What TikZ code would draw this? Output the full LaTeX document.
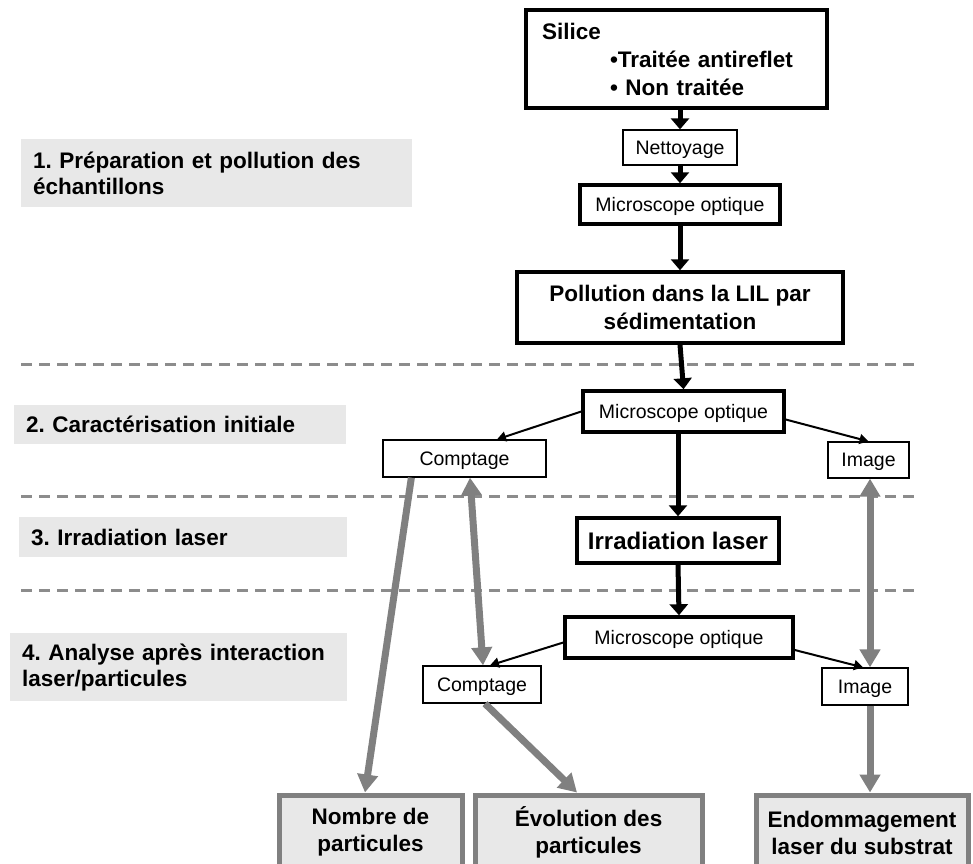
\documentclass[tikz,border=0pt]{standalone}
\usepackage{fontspec}
\setmainfont{Liberation Sans}
\usetikzlibrary{arrows.meta}
\definecolor{grayline}{RGB}{128,128,128}
\definecolor{dashgray}{RGB}{140,140,140}
\definecolor{lightfill}{RGB}{232,232,232}
\frenchspacing
\begin{document}
\begin{tikzpicture}[x=1pt,y=-1pt,
  bx/.style={draw, fill=white, inner sep=0pt, align=center, font=\fontsize{19.5}{23}\selectfont},
  thk/.style={bx, line width=3.5pt},
  thn/.style={bx, line width=1.3pt},
  oneline/.style={text depth=0pt},
  bld/.style={font=\fontsize{22.5}{28}\selectfont\bfseries},
  lab/.style={fill=lightfill, anchor=north west, inner xsep=12pt, inner ysep=0pt, align=left, font=\fontsize{22.5}{26}\selectfont\bfseries},
  res/.style={draw=grayline, fill=lightfill, line width=5pt, inner sep=0pt, align=center, font=\fontsize{22.5}{27}\selectfont\bfseries, minimum height=75pt},
  barrow/.style={-{Triangle[width=18pt,length=11pt]}, line width=5pt},
  tarrow/.style={-{Triangle[width=10pt,length=9pt]}, line width=2pt},
  garrow/.style={-{Triangle[width=20pt,length=18pt]}, line width=7pt, draw=grayline},
  gdarrow/.style={{Triangle[width=20pt,length=18pt]}-{Triangle[width=20pt,length=18pt]}, line width=7pt, draw=grayline},
  sep/.style={draw=dashgray, line width=3pt, dash pattern=on 11pt off 7pt}
]
\useasboundingbox (0,0) rectangle (973,863);
\clip (0,0) rectangle (973,863);
\fill[white] (0,0) rectangle (973,863);

% phase separators
\draw[sep] (21,364) -- (917,364);
\draw[sep] (21,496) -- (917,496);
\draw[sep] (21,590) -- (917,590);

% phase labels
\node[lab, text width=367pt, minimum height=68pt] (l1) at (21,139) {1. Préparation et pollution des\\échantillons};
\node[lab, text width=308pt, minimum height=39pt] (l2) at (14,405) {2. Caractérisation initiale};
\node[lab, text width=304pt, minimum height=40pt] (l3) at (19,517) {3. Irradiation laser};
\node[lab, text width=313pt, minimum height=68pt] (l4) at (10,633) {4. Analyse après interaction\\laser/particules};

% main flow
\node[thk, bld, align=left, inner xsep=16pt, text width=269pt, minimum height=98pt] (silice) at (676.5,59)
  {Silice\\\hspace*{68pt}•Traitée antireflet\\\hspace*{68pt}• Non traitée};
\node[thn, oneline, minimum width=114pt, minimum height=35pt] (nett) at (680,147.5) {Nettoyage};
\node[thk, oneline, minimum width=200pt, minimum height=39pt] (mic1) at (680,204.5) {Microscope optique};
\node[thk, bld, minimum width=326pt, minimum height=71pt] (poll) at (680,307.5) {Pollution dans la LIL par\\sédimentation};
\node[thk, oneline, minimum width=201pt, minimum height=41pt] (mic2) at (683.5,411.5) {Microscope optique};
\node[thn, oneline, minimum width=163pt, minimum height=37pt] (comp1) at (464.5,458.5) {Comptage};
\node[thn, oneline, minimum width=81pt, minimum height=36pt] (img1) at (868.5,460) {Image};
\node[thk, oneline, font=\fontsize{24}{28}\selectfont\bfseries, minimum width=202pt, minimum height=45pt] (irr) at (678,540.5) {Irradiation laser};
\node[thk, oneline, minimum width=228pt, minimum height=41pt] (mic3) at (679,637.5) {Microscope optique};
\node[thn, oneline, minimum width=118pt, minimum height=37pt] (comp2) at (482,684.5) {Comptage};
\node[thn, oneline, minimum width=86pt, minimum height=37pt] (img2) at (865,686.5) {Image};

% results
\node[res, minimum width=183pt] (nombre) at (370.5,832.5) {Nombre de\\particules};
\node[res, minimum width=227pt] (evol) at (588.5,832.5) {Évolution des\\particules};
\node[res, minimum width=212pt] (endo) at (862,832.5) {Endommagement\\laser du substrat};

% black connectors
\draw[barrow] (nett.north |- silice.south) -- (nett.north);
\draw[barrow] (nett.south) -- (mic1.north);
\draw[barrow] (mic1.south) -- (poll.north);
\draw[barrow] (poll.south) -- (mic2.north);
\draw[tarrow] (mic2.west) -- ([xshift=32.5pt]comp1.north);
\draw[tarrow] ([yshift=-8pt]mic2.east) -- (img1.north);
\draw[barrow] (irr.north |- mic2.south) -- (irr.north);
\draw[barrow] (irr.south) -- (mic3.north);
\draw[tarrow] ([yshift=-5pt]mic3.west) -- ([xshift=8pt]comp2.north);
\draw[tarrow] ([yshift=-12.5pt]mic3.east) -- ([xshift=-2pt]img2.north);

% gray connectors
\draw[garrow] ([xshift=29pt]comp1.south west) -- ([xshift=-5.5pt]nombre.north);
\draw[gdarrow] ([xshift=5.5pt]comp1.south) -- ([xshift=1pt]comp2.north);
\draw[gdarrow] ([xshift=1.5pt]img1.south) -- ([xshift=5pt]img2.north);
\draw[garrow] ([xshift=3pt]comp2.south) -- ([xshift=-11.5pt]evol.north);
\draw[garrow] ([xshift=5pt]img2.south) -- ([xshift=8pt]endo.north);
\end{tikzpicture}
\end{document}
